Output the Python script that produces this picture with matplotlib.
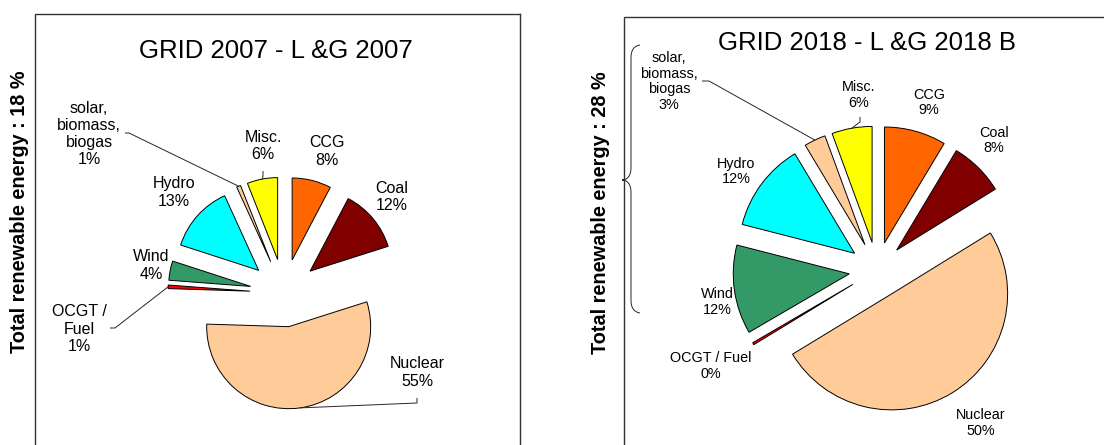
import numpy as np
import matplotlib
matplotlib.use("Agg")
import matplotlib.pyplot as plt
from matplotlib.path import Path
from matplotlib.patches import PathPatch

plt.rcParams['font.family'] = ['Liberation Sans', 'DejaVu Sans']

W, H = 1104, 445

# Generation mix, listed clockwise from 12 o'clock
sources_2007 = ["CCG", "Coal", "Nuclear", "OCGT /\nFuel", "Wind", "Hydro",
                "solar,\nbiomass,\nbiogas", "Misc."]
shares_2007 = [7.7, 12.4, 55.4, 0.7, 3.8, 13.2, 0.8, 6.0]

sources_2018 = ["CCG", "Coal", "Nuclear", "OCGT / Fuel", "Wind", "Hydro",
                "solar,\nbiomass,\nbiogas", "Misc."]
shares_2018 = [8.6, 7.6, 50.1, 0.3, 12.4, 12.4, 3.0, 5.6]

colors = ["#FF6600", "#800000", "#FFCC99", "#FF0000",
          "#339966", "#00FFFF", "#FFCC99", "#FFFF00"]

titles = ["GRID 2007 - L &G 2007", "GRID 2018 - L &G 2018 B"]
renewable_totals = [18, 28]


def P(x, y):
    """Pixel position (origin top-left) -> axes data position."""
    return (x, H - y)


fig = plt.figure(figsize=(W / 100, H / 100), dpi=100)
ax = fig.add_axes([0, 0, 1, 1])

panels = [
    dict(names=sources_2007, shares=shares_2007, title=titles[0],
         total=renewable_totals[0], center=(284, 293), radius=82, explode=34,
         fs=11.5, title_pos=(276, 58), side_pos=(20, 212),
         box=dict(left=35, top=14, right=520),
         label_pos=[(327, 151.5), (392, 197), (417, 372.5), (79, 329),
                    (151, 265.5), (174, 192.5), (89, 134), (263, 146)],
         leaders={6: [(125, 133), (129, 133)], 3: [(110, 328), (115, 328)],
                  2: [(417, 398), (417, 403)], 7: [(263, 171), (263, 176)]}),
    dict(names=sources_2018, shares=shares_2018, title=titles[1],
         total=renewable_totals[1], center=(877, 270), radius=116, explode=28,
         fs=10.4, title_pos=(867, 50), side_pos=(600, 213),
         box=dict(left=624, top=17, right=None),
         label_pos=[(929, 102.5), (994, 140.5), (981, 423), (711, 366),
                    (717, 302), (736, 171.5), (669, 81.5), (859, 95)],
         leaders={6: [(702, 81), (709, 81)], 7: [(860, 117), (860, 122)]}),
]

line_col = "#262626"

for pn in panels:
    wedges, _ = ax.pie(pn["shares"], explode=[pn["explode"]] * len(pn["shares"]),
                       colors=colors, startangle=90, counterclock=False,
                       center=P(*pn["center"]), radius=pn["radius"],
                       wedgeprops=dict(edgecolor="black", linewidth=0.7))

    for i, (name, val) in enumerate(zip(pn["names"], pn["shares"])):
        lx, ly = pn["label_pos"][i]
        ax.text(*P(lx, ly), f"{name}\n{val:.0f}%", ha="center", va="center",
                fontsize=pn["fs"], color="black", linespacing=1.18)

    for i, pts in pn["leaders"].items():
        w = wedges[i]
        th = np.deg2rad(0.5 * (w.theta1 + w.theta2))
        wx = w.center[0] + w.r * np.cos(th)
        wy = w.center[1] + w.r * np.sin(th)
        xs = [p[0] for p in pts] + [wx]
        ys = [H - p[1] for p in pts] + [wy]
        ax.plot(xs, ys, color=line_col, lw=0.7, solid_capstyle="butt")

    tx, ty = pn["title_pos"]
    ax.text(*P(tx, ty), pn["title"], ha="center", va="baseline", fontsize=18.5)

    sx, sy = pn["side_pos"]
    ax.text(*P(sx, sy), f"Total renewable energy : {pn['total']} %",
            ha="center", va="center", rotation=90, fontsize=14.3,
            fontweight="bold")

    b = pn["box"]
    right = b["right"] if b["right"] is not None else W + 5
    ax.plot([b["left"], b["left"], right], [-5, H - b["top"], H - b["top"]],
            color="#333333", lw=1.0, solid_joinstyle="miter")
    if b["right"] is not None:
        ax.plot([right, right], [H - b["top"], -5], color="#333333", lw=1.0)

# Brace grouping the renewable sources of 2018
verts = [P(640, 45), P(634, 46), P(631, 50), P(631, 58),
         P(631, 168),
         P(631, 176), P(627, 180), P(622, 180),
         P(627, 180), P(631, 184), P(631, 192),
         P(631, 300),
         P(631, 308), P(634, 312), P(640, 313)]
codes = [Path.MOVETO, Path.CURVE4, Path.CURVE4, Path.CURVE4,
         Path.LINETO,
         Path.CURVE4, Path.CURVE4, Path.CURVE4,
         Path.CURVE4, Path.CURVE4, Path.CURVE4,
         Path.LINETO,
         Path.CURVE4, Path.CURVE4, Path.CURVE4]
ax.add_patch(PathPatch(Path(verts, codes), facecolor="none",
                       edgecolor=line_col, lw=0.7))

ax.set_xlim(0, W)
ax.set_ylim(0, H)
ax.set_aspect("auto")
ax.set_axis_off()

fig.savefig("out.png", dpi=100)
